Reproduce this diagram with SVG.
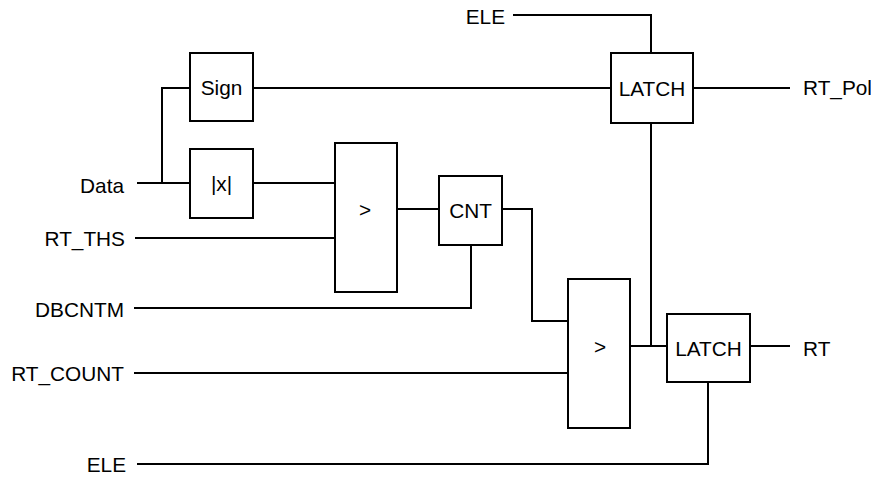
<svg xmlns="http://www.w3.org/2000/svg" width="871" height="477" viewBox="0 0 871 477">
<style>
.box{fill:#fff;stroke:#000;stroke-width:2}
.w{fill:none;stroke:#000;stroke-width:2}
text{font-family:"Liberation Sans",Arial,Helvetica,sans-serif;font-size:20.8px;fill:#000}
.c{text-anchor:middle}
.e{text-anchor:end}
</style>
<rect width="871" height="477" fill="#fff"/>
<g id="connectors">
<path class="w" d="M137,183H190"/>
<path class="w" d="M162,183V88H190"/>
<path class="w" d="M253,88H611"/>
<path class="w" d="M253,183H335"/>
<path class="w" d="M135,238H335"/>
<path class="w" d="M397,209H439"/>
<path class="w" d="M134,308H471V245"/>
<path class="w" d="M502,209H532V321H568"/>
<path class="w" d="M134,373H568"/>
<path class="w" d="M630,346H667"/>
<path class="w" d="M651,123V346"/>
<path class="w" d="M513,15H651V53"/>
<path class="w" d="M693,88H790"/>
<path class="w" d="M750,346H790"/>
<path class="w" d="M137,464H708V382"/>
</g>
<g id="sign"><rect class="box" x="190" y="53" width="63" height="68"/><text class="c" x="221.5" y="95">Sign</text></g>
<g id="abs"><rect class="box" x="190" y="149" width="63" height="69"/><text class="c" x="221.5" y="191">|x|</text></g>
<g id="gt1"><rect class="box" x="335" y="143" width="62" height="149"/><text class="c" x="365" y="217">&gt;</text></g>
<g id="cnt"><rect class="box" x="439" y="176" width="63" height="69"/><text class="c" x="470.5" y="218">CNT</text></g>
<g id="gt2"><rect class="box" x="568" y="279" width="62" height="149"/><text class="c" x="600" y="354">&gt;</text></g>
<g id="latch1"><rect class="box" x="611" y="53" width="82" height="70"/><text class="c" x="652" y="96">LATCH</text></g>
<g id="latch2"><rect class="box" x="667" y="314" width="83" height="68"/><text class="c" x="708.5" y="356">LATCH</text></g>
<g id="labels">
<text class="e" x="124" y="193">Data</text>
<text class="e" x="125" y="246">RT_THS</text>
<text class="e" x="124" y="317">DBCNTM</text>
<text class="e" x="124" y="381">RT_COUNT</text>
<text class="e" x="126" y="472">ELE</text>
<text class="e" x="505" y="24">ELE</text>
<text x="803" y="95">RT_Pol</text>
<text x="803" y="356">RT</text>
</g>
</svg>
